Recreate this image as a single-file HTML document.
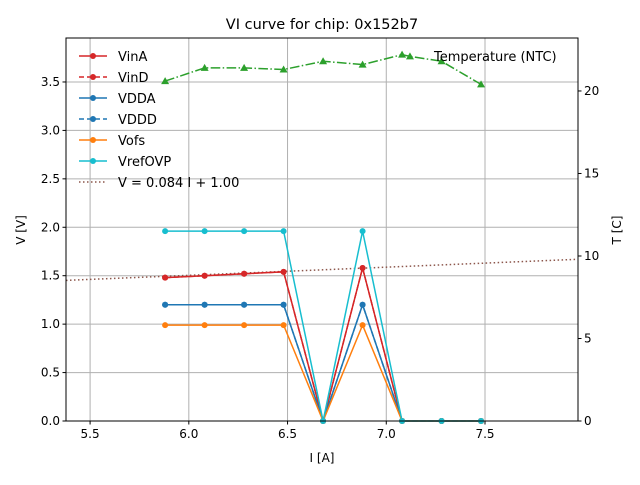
<!DOCTYPE html>
<html><head><meta charset="utf-8"><style>body{margin:0;background:#fff}svg{font-family:"DejaVu Sans","Liberation Sans",sans-serif}</style></head>
<body>
<svg id="c" width="640" height="480"></svg>
<script>
const xs=[5.88,6.08,6.28,6.48,6.68,6.88,7.08,7.28,7.48];
const vinA=[1.48,1.50,1.52,1.54,0,1.58,0,0,0];
const vinD=[1.48,1.50,1.52,1.54,0,1.58,0,0,0];
const vdda=[1.2,1.2,1.2,1.2,0,1.2,0,0,0];
const vddd=[1.2,1.2,1.2,1.2,0,1.2,0,0,0];
const vofs=[0.99,0.99,0.99,0.99,0,0.99,0,0,0];
const vref=[1.96,1.96,1.96,1.96,0,1.96,0,0,0];
const tX=[5.88,6.08,6.28,6.48,6.68,6.88,7.08,7.12,7.28,7.48];
const tY=[20.6,21.4,21.4,21.3,21.8,21.6,22.2,22.1,21.8,20.4];
const fitSlope=0.084, fitIntercept=1.00;
const xTicks=[5.5,6.0,6.5,7.0,7.5];
const yTicks=[0,0.5,1.0,1.5,2.0,2.5,3.0,3.5];
const tTicks=[0,5,10,15,20];
const L=66,R=578,T=38,B=421;
const xmin=5.378,xmax=7.971,ymax=3.954,tmax=23.21;
const X=v=>L+(v-xmin)/(xmax-xmin)*(R-L);
const Y=v=>B-v/ymax*(B-T);
const TY=v=>B-v/tmax*(B-T);
const svg=document.getElementById('c');const NS='http://www.w3.org/2000/svg';
function el(t,a,p){const e=document.createElementNS(NS,t);for(const k in a)e.setAttribute(k,a[k]);(p||svg).appendChild(e);return e;}
function txt(s,a){const e=el('text',a);e.textContent=s;return e;}
// grid
xTicks.forEach(v=>{const g=el('line',{x1:X(v),x2:X(v),y1:T,y2:B,stroke:'#b0b0b0','stroke-width':1});


el('line',{x1:X(v),x2:X(v),y1:B,y2:B+3.5,stroke:'#000'});
const t=txt(v.toFixed(1),{x:X(v),y:B+17,'font-size':12,'text-anchor':'middle'});

});
yTicks.forEach(v=>{const g=el('line',{x1:L,x2:R,y1:Y(v),y2:Y(v),stroke:'#b0b0b0','stroke-width':1});


el('line',{x1:L-3.5,x2:L,y1:Y(v),y2:Y(v),stroke:'#000'});
const t=txt(v.toFixed(1),{x:L-6,y:Y(v)+4,'font-size':12,'text-anchor':'end'});

});
tTicks.forEach(v=>{el('line',{x1:R,x2:R+3.5,y1:TY(v),y2:TY(v),stroke:'#000'});
const t=txt(String(v),{x:R+6,y:TY(v)+4,'font-size':12});

});
// fit line
const fit=el('line',{x1:L,x2:R,y1:Y(fitSlope*xmin+fitIntercept),y2:Y(fitSlope*xmax+fitIntercept),stroke:'#8c564b','stroke-width':1.5,'stroke-dasharray':'1.5,2.5'});


function series(ys,col,dash,name,xv,ymap,marker){
const g=el('g',{});


const px=(xv||xs),m=ymap||Y;
el('polyline',{points:px.map((x,i)=>X(x)+','+m(ys[i])).join(' '),fill:'none',stroke:col,'stroke-width':1.5,'stroke-dasharray':dash||''},g);
px.forEach((x,i)=>{if(marker==='tri'){const cx=X(x),cy=m(ys[i]);el('polygon',{points:`${cx},${cy-4} ${cx-4},${cy+3} ${cx+4},${cy+3}`,fill:col},g);}
else el('circle',{cx:X(x),cy:m(ys[i]),r:3,fill:col},g);});}
series(vinA,'#d62728','', 'series-vina');
series(vinD,'#d62728','5.5,2.5','series-vind');
series(vdda,'#1f77b4','','series-vdda');
series(vddd,'#1f77b4','5.5,2.5','series-vddd');
series(vofs,'#ff7f0e','','series-vofs');
series(vref,'#17becf','','series-vrefovp');
series(tY,'#2ca02c','9.6,2.4,1.5,2.4','series-temperature',tX,TY,'tri');
el('rect',{x:L,y:T,width:R-L,height:B-T,fill:'none',stroke:'#000','stroke-width':1});
let t;
t=txt('VI curve for chip: 0x152b7',{x:322,y:29,'font-size':14.5,'text-anchor':'middle'});

t=txt('I [A]',{x:322,y:462,'font-size':12,'text-anchor':'middle'});

t=txt('V [V]',{x:0,y:0,'font-size':12,'text-anchor':'middle',transform:'translate(25,230) rotate(-90)'});

t=txt('T [C]',{x:0,y:0,'font-size':12,'text-anchor':'middle',transform:'translate(621,230) rotate(-90)'});

t=txt('Temperature (NTC)',{x:434,y:61,'font-size':13});

const leg=[['VinA','#d62728',''],['VinD','#d62728','5,3'],['VDDA','#1f77b4',''],['VDDD','#1f77b4','5,3'],['Vofs','#ff7f0e',''],['VrefOVP','#17becf',''],['V = 0.084 I + 1.00','#8c564b','1.5,2.5']];
leg.forEach((d,i)=>{const y=56+i*21;const g=el('g',{});


el('line',{x1:79,x2:107,y1:y,y2:y,stroke:d[1],'stroke-width':1.5,'stroke-dasharray':d[2]},g);
if(i<6)el('circle',{cx:93,cy:y,r:3,fill:d[1]},g);
const tt=el('text',{x:118,y:y+5,'font-size':13},g);tt.textContent=d[0];});
</script>
</body></html>
